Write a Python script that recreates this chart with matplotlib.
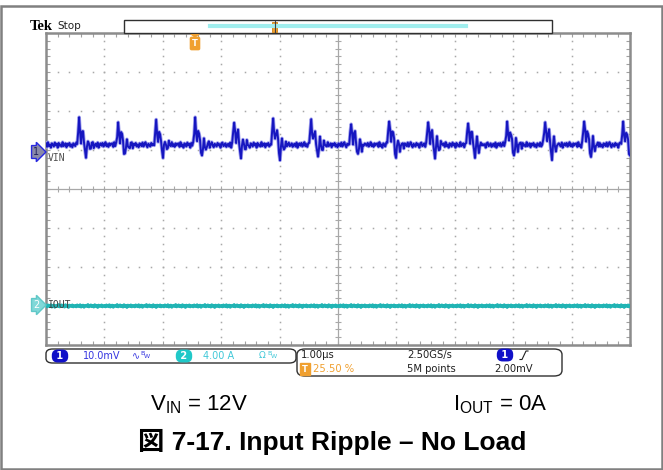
import numpy as np
import matplotlib.pyplot as plt
from matplotlib.patches import Rectangle, FancyBboxPatch, Polygon
from matplotlib.lines import Line2D

plt.rcParams['mathtext.fontset'] = 'custom'
plt.rcParams['mathtext.rm'] = 'Liberation Sans'
plt.rcParams['mathtext.it'] = 'Liberation Sans'

W, H = 663, 470

# scope settings
CH1_SCALE_MV = 10.0      # mV/div
CH2_SCALE_A = 4.0        # A/div
CH1_OFFSET_DIV = 0.0
CH2_OFFSET_DIV = -3.0
SAMPLES_PER_US = 60

# ch1: VIN ripple (mV), time in us from left edge of screen
SPIKE_TIMES_US = [0.57, 1.23, 1.88, 2.55, 3.22, 3.89, 4.54, 5.21,
                  5.87, 6.54, 7.21, 7.88, 8.53, 9.20, 9.86]
SPIKE_PEAKS_MV = [6.4, 5.4, 5.9, 6.4, 5.9, 6.7, 6.2, 5.4,
                  6.7, 6.2, 5.9, 5.6, 6.4, 6.4, 5.6]
SPIKE_SHAPE = [0.1, 0.5, 1.0, 0.5, 0.15, 0.5, 0.55, 0.15, -0.3, -0.5,
               -0.1, 0.25, 0.0, -0.25, -0.1, 0.1, 0.05, -0.05]
VIN_LEVEL_MV = 11.3
VIN_NOISE_MV = [0.4, -0.5, 0.7, -0.3, 0.1, -0.7, 0.4, 0.1, -0.4, 0.6,
                -0.1, 0.3, -0.7, 0.5, -0.2, 0.1, -0.4, 0.7, -0.3, 0.0,
                0.4, -0.6, 0.3, -0.1, 0.5, -0.4, 0.1, -0.6, 0.4, 0.1,
                -0.3, 0.6, -0.4, 0.1, 0.7, -0.1, -0.6, 0.3, 0.0, -0.4,
                0.5, -0.1, 0.2, -0.7, 0.4, 0.6, -0.3, -0.1, 0.4, -0.5,
                0.1, 0.3, -0.4, 0.6, -0.7, 0.1, 0.4, -0.2, 0.5, -0.4,
                0.0, 0.7, -0.3, 0.2, -0.5, 0.4, -0.1, 0.3]

# ch2: IOUT (A)
IOUT_LEVEL_A = 0.0
IOUT_NOISE_A = [0.05, -0.08, 0.1, 0.0, -0.06, 0.12, -0.1, 0.04, 0.08, -0.12,
                0.02, 0.06, -0.04, 0.14, -0.08, 0.0, 0.1, -0.06, 0.04, -0.1,
                0.12, -0.02, 0.06, -0.14, 0.08, 0.0, -0.04, 0.1, -0.08, 0.02]


def fx(x):
    return x / W


def fy(y):
    return 1 - y / H


n = 10 * SAMPLES_PER_US
t = np.linspace(0, 10, n)
vin = VIN_LEVEL_MV + np.resize(np.array(VIN_NOISE_MV), n)
for ts, pk in zip(SPIKE_TIMES_US, SPIKE_PEAKS_MV):
    i0 = int(round(ts * SAMPLES_PER_US)) - 2
    for k, s in enumerate(SPIKE_SHAPE):
        if 0 <= i0 + k < n:
            vin[i0 + k] += pk * s
iout = IOUT_LEVEL_A + np.resize(np.array(IOUT_NOISE_A), n)

fig = plt.figure(figsize=(W / 100, H / 100), dpi=100)
fig.patch.set_facecolor('white')

# outer frame
fig.add_artist(Rectangle((fx(0.8), fy(468.5)), fx(661.5), (467.5 - 4.5) / H,
                         transform=fig.transFigure, fill=False, ec='#808080', lw=1.8))

ax = fig.add_axes([fx(46), fy(345), fx(584), 312 / H])
ax.set_xlim(0, 10)
ax.set_ylim(-4, 4)
ax.set_facecolor('white')
for sp in ax.spines.values():
    sp.set_color('#8c8c8c')
    sp.set_linewidth(1.8)
ax.set_xticks(np.arange(0, 10.01, 0.2))
ax.set_yticks(np.arange(-4, 4.01, 0.2))
ax.tick_params(direction='in', length=3, width=0.8, color='#a0a0a0',
               top=True, right=True, labelbottom=False, labelleft=False)

# graticule dots
dots_y = np.arange(-4, 4.01, 0.2)
dots_x = np.arange(0, 10.01, 0.2)
for xv in range(1, 10):
    if xv != 5:
        ax.plot([xv] * len(dots_y), dots_y, ls='none', marker='s', ms=1.1,
                mew=0, color='#a8a8a8')
for yv in range(-3, 4):
    if yv != 0:
        ax.plot(dots_x, [yv] * len(dots_x), ls='none', marker='s', ms=1.1,
                mew=0, color='#a8a8a8')
ax.axhline(0, color='#a8a8a8', lw=0.9)
ax.axvline(5, color='#a8a8a8', lw=0.9)
ax.plot(dots_x, [0] * len(dots_x), ls='none', marker='|', ms=4, mew=0.8, color='#a8a8a8')
ax.plot([5] * len(dots_y), dots_y, ls='none', marker='_', ms=4, mew=0.8, color='#a8a8a8')

# traces
v1 = vin / CH1_SCALE_MV + CH1_OFFSET_DIV
ax.plot(t, v1, color='#a4a4ee', lw=2.6, zorder=4)
ax.plot(t, v1, color='#1616c0', lw=1.4, zorder=5)
v2 = iout / CH2_SCALE_A + CH2_OFFSET_DIV
ax.plot(t, v2, color='#20b4b4', lw=2.2, zorder=5)

# top status bar
fig.text(fx(30), fy(26), 'Tek', family='Liberation Serif', weight='bold',
         fontsize=10.5, va='center', ha='left')
fig.text(fx(57), fy(26), 'Stop', family='DejaVu Sans', fontsize=7.5,
         va='center', ha='left', color='#202020')
fig.add_artist(Rectangle((fx(124), fy(33)), fx(428), 13 / H, transform=fig.transFigure,
                         fill=True, fc='white', ec='#303030', lw=1.0))
fig.add_artist(Line2D([fx(210), fx(466)], [fy(26), fy(26)], transform=fig.transFigure,
                      color='#a0eeee', lw=3))
fig.add_artist(Rectangle((fx(272), fy(32)), fx(5), 10 / H, transform=fig.transFigure,
                         fc='#f0a030', ec='#d08010', lw=0.6))
fig.add_artist(Line2D([fx(274.5), fx(274.5)], [fy(21), fy(32)], transform=fig.transFigure,
                      color='#404040', lw=0.8))

# trigger position marker
fig.add_artist(Polygon([[fx(190), fy(34)], [fx(200), fy(34)], [fx(195), fy(38)]],
                       closed=True, transform=fig.transFigure, fc='#f0a030', ec='none'))
fig.text(fx(195), fy(43.5), 'T', fontsize=6, color='white', weight='bold',
         ha='center', va='center', family='DejaVu Sans',
         bbox=dict(boxstyle='round,pad=0.2,rounding_size=0.15', fc='#f0a030', ec='#f0a030'))

# channel markers
fig.text(fx(33), fy(152), '1', fontsize=7, color='#202060', ha='left', va='center',
         family='DejaVu Sans',
         bbox=dict(boxstyle='rarrow,pad=0.15', fc='#8a8aa8', ec='#2828e0', lw=1))
fig.text(fx(47.5), fy(158), 'VIN', fontsize=7, color='#505050', ha='left', va='center',
         family='DejaVu Sans Mono')
fig.text(fx(33), fy(305), '2', fontsize=7, color='white', ha='left', va='center',
         family='DejaVu Sans',
         bbox=dict(boxstyle='rarrow,pad=0.15', fc='#80d8d8', ec='#60c8c8', lw=1))
fig.text(fx(47.5), fy(305), 'IOUT', fontsize=7, color='#404040', ha='left', va='center',
         family='DejaVu Sans Mono')

# bottom info boxes
fig.add_artist(FancyBboxPatch((fx(46), fy(363)), fx(250), 14 / H,
                              boxstyle='round,pad=0,rounding_size=0.01',
                              transform=fig.transFigure, fc='white', ec='#303030', lw=1))
fig.add_artist(FancyBboxPatch((fx(297), fy(376)), fx(265), 27 / H,
                              boxstyle='round,pad=0,rounding_size=0.012',
                              transform=fig.transFigure, fc='white', ec='#303030', lw=1))

pill = dict(boxstyle='round,pad=0.15,rounding_size=0.6', lw=0)
fig.text(fx(60), fy(356), ' 1 ', fontsize=7, color='white', ha='center', va='center',
         weight='bold', bbox=dict(pill, fc='#1010c8', pad=0.2))
fig.text(fx(83), fy(356), '10.0mV', fontsize=7, color='#3535e0', ha='left', va='center')
fig.text(fx(132), fy(356), '∿', fontsize=7, color='#3535e0', ha='left', va='center')
fig.text(fx(140), fy(353.5), 'B', fontsize=4.5, color='#3535e0', ha='left', va='center')
fig.text(fx(144), fy(357), 'W', fontsize=4.5, color='#3535e0', ha='left', va='center')
fig.text(fx(184), fy(356), ' 2 ', fontsize=7, color='white', ha='center', va='center',
         weight='bold', bbox=dict(pill, fc='#20c8c8', pad=0.2))
fig.text(fx(203), fy(356), '4.00 A', fontsize=7, color='#40c8d8', ha='left', va='center')
fig.text(fx(259), fy(356), 'Ω', fontsize=6.5, color='#40c8d8', ha='left', va='center')
fig.text(fx(267), fy(353.5), 'B', fontsize=4.5, color='#40c8d8', ha='left', va='center')
fig.text(fx(271), fy(357), 'W', fontsize=4.5, color='#40c8d8', ha='left', va='center')

fig.text(fx(301), fy(355), '1.00µs', fontsize=7.2, color='#202020', ha='left', va='center')
fig.text(fx(407), fy(355), '2.50GS/s', fontsize=7.2, color='#202020', ha='left', va='center')
fig.text(fx(505), fy(355), ' 1 ', fontsize=7, color='white', ha='center', va='center',
         weight='bold', bbox=dict(pill, fc='#1010c8', pad=0.2))
fig.add_artist(Line2D([fx(520), fx(522), fx(526), fx(528)],
                      [fy(359.5), fy(359.5), fy(351), fy(351)],
                      transform=fig.transFigure, color='#202020', lw=0.8))
fig.text(fx(305), fy(369), 'T', fontsize=6, color='white', ha='center', va='center',
         weight='bold', bbox=dict(boxstyle='square,pad=0.2', fc='#f0a030', ec='#f0a030'))
fig.text(fx(313), fy(369), '25.50 %', fontsize=7.2, color='#f0a030', ha='left', va='center')
fig.text(fx(407), fy(369), '5M points', fontsize=7.2, color='#202020', ha='left', va='center')
fig.text(fx(494), fy(369), '2.00mV', fontsize=7.2, color='#202020', ha='left', va='center')

# caption
fig.text(fx(150), fy(410), r'V$_{\mathrm{IN}}$ = 12V', family='Liberation Sans',
         fontsize=16, ha='left', va='baseline')
fig.text(fx(453), fy(410), r'I$_{\mathrm{OUT}}$ = 0A', family='Liberation Sans',
         fontsize=16, ha='left', va='baseline')
fig.text(fx(332), fy(450), '図 7-17. Input Ripple – No Load',
         family=['Liberation Sans', 'Noto Sans CJK JP'], weight='bold',
         fontsize=19, ha='center', va='baseline')

fig.savefig('out.png', dpi=100)
